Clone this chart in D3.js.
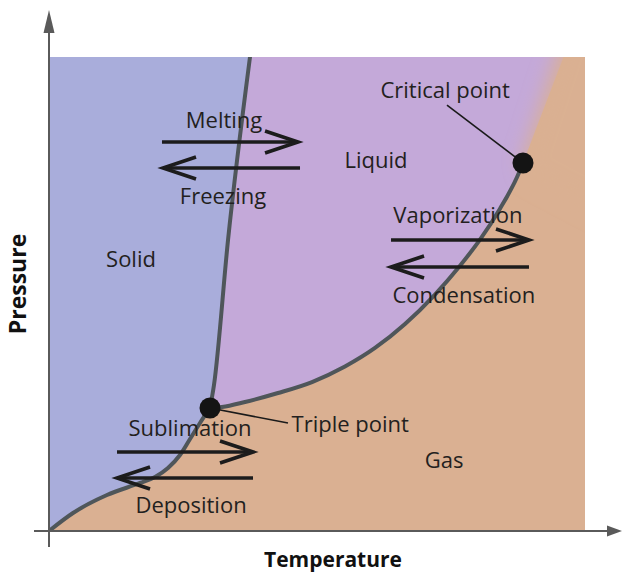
<!DOCTYPE html>
<html><head><meta charset="utf-8">
<script src="https://cdn.jsdelivr.net/npm/d3@7"></script>
<style>html,body{margin:0;padding:0;background:#fff;} svg{display:block;}</style>
</head><body><svg id="chart" width="624" height="573"></svg>
<script>
// ---- data (temperature / pressure in arbitrary units 0-100) ----
const sublimationCurve = [[0,0],[4.48,3.80],[10.82,7.59],[16.98,10.13],[19.78,11.39],[22.20,13.29],[24.44,16.03],[26.31,19.41],[28.17,22.78],[30.04,25.95]];
const meltingCurve = [[30.04,25.95],[30.78,30.80],[33.4,61.39],[37.5,100]];
const vaporizationCurve = [[30.04,25.95],[32.28,26.16],[36.57,27.22],[42.72,29.11],[49.07,31.43],[55.22,34.70],[60.82,38.61],[66.42,43.67],[72.01,49.89],[76.68,55.97],[80.41,61.46],[84.14,68.00],[87.31,74.62],[88.43,77.64]];
const triplePoint = [30.04,25.95];
const criticalPoint = [88.43,77.64];
const supercriticalEdgeTop = [96.0,100];
const phaseNames = ["Solid","Liquid","Gas"];
const phasePos = [[15.3,55.7],[61.0,76.6],[73.7,13.3]];
const transitionNames = ["Melting","Freezing","Vaporization","Condensation","Sublimation","Deposition"];
const transitionArrows = [[21.08,46.46,82.07],[46.83,21.27,76.58],[63.81,89.55,61.39],[89.55,63.81,55.70],[12.69,38.06,16.67],[38.06,12.69,11.18]];
const transitionLabelPos = [[32.65,85.0],[32.46,69.0],[76.3,65.0],[77.4,48.1],[26.3,20.0],[26.5,3.8]];
const pointNames = ["Triple point","Critical point"];
const pointLabelPos = [[56.2,20.9],[73.9,91.35]];
const leaderEnds = [[44.59,22.78],[74.25,89.87]];
const axisTitles = ["Temperature","Pressure"];

// ---- layout ----
const svg = d3.select("#chart");
const x = d3.scaleLinear().domain([0,100]).range([49,585]);
const y = d3.scaleLinear().domain([0,100]).range([531,57]);
const colors = {solid:"#a9addb", liquid:"#c4a9d9", gas:"#dab092"};
const line = d3.line().x(d=>x(d[0])).y(d=>y(d[1])).curve(d3.curveMonotoneX);
const seg = pts => line(pts);
const cont = pts => line(pts).replace(/^M/,"L");
const rev = a => a.slice().reverse();

const defs = svg.append("defs");
defs.append("clipPath").attr("id","plotclip").append("rect")
  .attr("x",x(0)).attr("y",y(100)).attr("width",x(100)-x(0)).attr("height",y(0)-y(100));
defs.append("filter").attr("id","soft").attr("x","-50%").attr("y","-50%").attr("width","200%").attr("height","200%")
  .append("feGaussianBlur").attr("stdDeviation",10);

const g = svg.append("g").attr("clip-path","url(#plotclip)");
// gas background
g.append("rect").attr("x",x(0)).attr("y",y(100)).attr("width",x(100)-x(0)).attr("height",y(0)-y(100)).attr("fill",colors.gas);
// liquid
const liquidPath = seg(rev(meltingCurve)) + cont(vaporizationCurve) +
  `L${x(supercriticalEdgeTop[0])},${y(supercriticalEdgeTop[1])}Z`;
g.append("path").attr("d",liquidPath).attr("fill",colors.liquid);
// soft supercritical transition
const softPath = `M${x(criticalPoint[0])},${y(criticalPoint[1])}L${x(supercriticalEdgeTop[0])},${y(supercriticalEdgeTop[1])-20}L${x(115)},${y(115)}L${x(115)},${y(60)}L${x(criticalPoint[0])+6},${y(criticalPoint[1])+12}Z`;
g.append("path").attr("d",softPath).attr("fill",colors.gas).attr("filter","url(#soft)");
// solid
g.append("path").attr("d",`M${x(0)},${y(100)}L${x(meltingCurve[meltingCurve.length-1][0])},${y(100)}` + cont(rev(meltingCurve)) + cont(rev(sublimationCurve)) + "Z").attr("fill",colors.solid);

// phase boundaries
[sublimationCurve, meltingCurve, vaporizationCurve].forEach(c=>{
  g.append("path").attr("d",seg(c)).attr("fill","none").attr("stroke","#4f565a").attr("stroke-width",4).attr("stroke-linecap","round");
});

// axes
const axisColor = "#5a5a5a";
svg.append("line").attr("x1",x(0)-15).attr("y1",y(0)).attr("x2",612).attr("y2",y(0)).attr("stroke",axisColor).attr("stroke-width",2);
svg.append("path").attr("d",`M622,${y(0)}L607,${y(0)-5.5}L607,${y(0)+5.5}Z`).attr("fill",axisColor);
svg.append("line").attr("x1",x(0)).attr("y1",y(0)+16).attr("x2",x(0)).attr("y2",22).attr("stroke",axisColor).attr("stroke-width",2);
svg.append("path").attr("d",`M${x(0)},10L${x(0)-5.5},33L${x(0)+5.5},33Z`).attr("fill",axisColor);

// leader lines and points
leaderEnds.forEach((e,i)=>{
  const p = i===0 ? triplePoint : criticalPoint;
  svg.append("line").attr("x1",x(p[0])).attr("y1",y(p[1])).attr("x2",x(e[0])).attr("y2",y(e[1]))
    .attr("stroke","#1a1a1a").attr("stroke-width",1.6);
});
[triplePoint, criticalPoint].forEach(p=>{
  svg.append("circle").attr("cx",x(p[0])).attr("cy",y(p[1])).attr("r",10.5).attr("fill","#141414");
});

// transition arrows
transitionArrows.forEach(a=>{
  const x1=x(a[0]), x2=x(a[1]), yy=y(a[2]);
  const dir = Math.sign(x2-x1);
  svg.append("line").attr("x1",x1).attr("y1",yy).attr("x2",x2).attr("y2",yy)
    .attr("stroke","#1c1c1c").attr("stroke-width",3.6);
  svg.append("path").attr("d",`M${x2-dir*33},${yy-11}L${x2},${yy}L${x2-dir*33},${yy+11}`)
    .attr("fill","none").attr("stroke","#1c1c1c").attr("stroke-width",3.6).attr("stroke-linejoin","miter");
});

// labels
const font = "'Open Sans', 'Liberation Sans', Arial, sans-serif";
const txtColor = "#231f20";
function label(t, p){
  svg.append("text").attr("x",x(p[0])).attr("y",y(p[1])).attr("text-anchor","middle")
    .attr("font-family",font).attr("font-size",22).attr("fill",txtColor).text(t);
}
phaseNames.forEach((t,i)=>label(t,phasePos[i]));
transitionNames.forEach((t,i)=>label(t,transitionLabelPos[i]));
pointNames.forEach((t,i)=>label(t,pointLabelPos[i]));

svg.append("text").attr("x",333).attr("y",567).attr("text-anchor","middle")
  .attr("font-family",font).attr("font-weight","bold").attr("font-size",21).attr("fill","#111").text(axisTitles[0]);
svg.append("text").attr("transform","translate(26,284) rotate(-90)").attr("text-anchor","middle")
  .attr("font-family",font).attr("font-weight","bold").attr("font-size",23).attr("fill","#111").text(axisTitles[1]);
</script>
</body></html>
